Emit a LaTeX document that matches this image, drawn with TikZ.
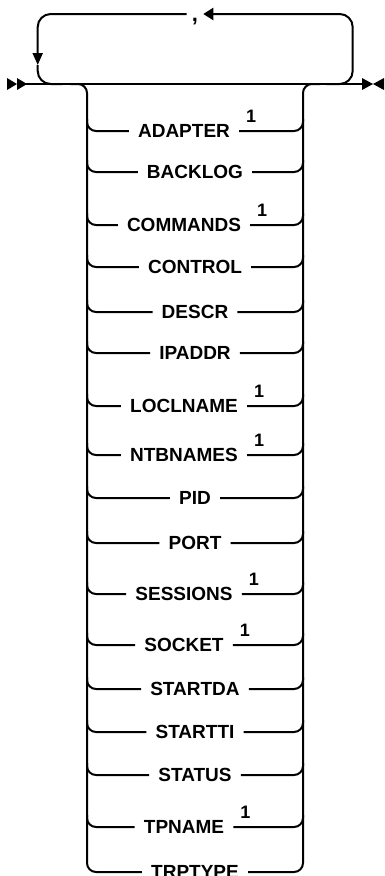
\documentclass[tikz,border=0pt]{standalone}
\usepackage{fontspec}
\setmainfont{Liberation Sans}
\usetikzlibrary{arrows.meta,calc}
\definecolor{rrline}{HTML}{000000}
\tikzset{
  rr/.style={draw=rrline,line width=2pt},
  rrc/.style={rr,rounded corners=9pt},
  loopc/.style={rr,rounded corners=13pt},
  kw/.style={font=\fontsize{19}{20}\selectfont\bfseries,inner xsep=9pt,inner ysep=0pt,text height=13.6pt,text depth=0pt},
  note/.style={font=\fontsize{18}{18}\selectfont\bfseries,inner sep=0pt},
  sepnode/.style={font=\fontsize{22}{22}\selectfont\bfseries,inner xsep=5pt,inner ysep=0pt,anchor=base},
  tip/.style={fill=rrline},
  ahleft/.style={-{Triangle[length=10pt,width=12pt]}},
  ahdown/.style={-{Triangle[length=12pt,width=10pt]}},
}
\begin{document}
\begin{tikzpicture}[x=1pt,y=-1pt]
  \useasboundingbox (0,0) rectangle (384,876);
  \coordinate (start) at (17,84);
  \coordinate (stop) at (362,84);
  \coordinate (ltop) at (37.7,14);
  \coordinate (rtop) at (352.7,14);
  \coordinate (ldown) at (37.7,65);
  \fill[tip] (7,78) -- (start) -- (7,90) -- cycle;
  \fill[tip] (start) ++(0,-6) -- (27,84) -- (17,90) -- cycle;
  \fill[tip] (stop) ++(0,-6) -- (373,84) -- (362,90) -- cycle;
  \fill[tip] (384,78) -- (373,84) -- (384,90) -- cycle;
  \draw[rr] (start) -- (stop);
  \node[sepnode] (comma) at (195,21) {,};
  \draw[loopc,ahleft] (326,84) -| (rtop) -- (comma.east |- rtop);
  \draw[loopc,ahdown] (comma.west |- ltop) -| (ldown);
  \draw[loopc] (ldown) |- (62,84);
  \foreach \kwd/\yy/\s [count=\i] in {ADAPTER/131/1, BACKLOG/172/0, COMMANDS/225/1, CONTROL/267/0,
      DESCR/312/0, IPADDR/353/0, LOCLNAME/406/1, NTBNAMES/455/1, PID/498/0, PORT/543/0,
      SESSIONS/594/1, SOCKET/645/1, STARTDA/689/0, STARTTI/732/0, STATUS/775/0,
      TPNAME/827/1, TRPTYPE/872/0} {
    \node[kw] (k\i) at (195-11*\s,\yy) {\kwd};
    \ifnum\s=1 \node[note] (n\i) at ([shift={(12pt,15pt)}]k\i.east) {1};\fi
    \ifnum\i<17
      \draw[rrc] (87,\yy-12) |- (k\i.west);
      \draw[rrc] (k\i.east) -| (303,\yy-12);
    \fi
  }
  \draw[rrc] (70,84) -| (87,872) -- (k17.west);
  \draw[rrc] (k17.east) -| (303,84) -- (320,84);
\end{tikzpicture}
\end{document}
